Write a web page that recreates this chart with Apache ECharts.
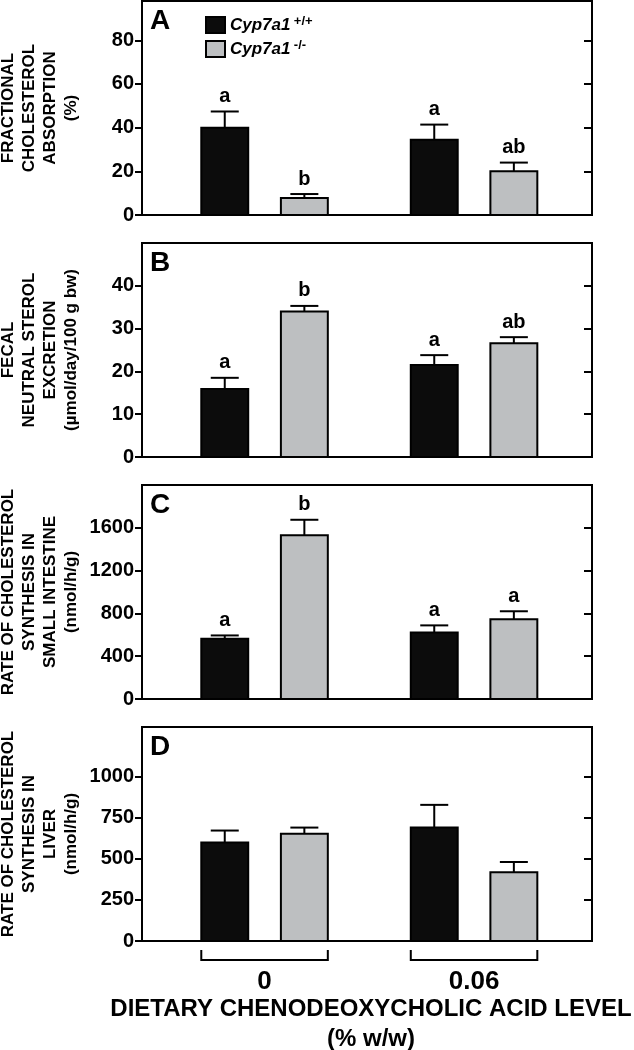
<!DOCTYPE html>
<html>
<head>
<meta charset="utf-8">
<script src="https://cdn.jsdelivr.net/npm/echarts@6/dist/echarts.min.js"></script>
<style>html,body{margin:0;padding:0;background:#fff}#c{width:634px;height:1050px}</style>
</head>
<body>
<div id="c"></div>
<script>
// ---- data ----
const groups = ['0', '0.06'];
const seriesNames = ['Cyp7a1 +/+', 'Cyp7a1 -/-'];

const panelLetters = ['A', 'B', 'C', 'D'];
const yTitles = [
  'FRACTIONAL\nCHOLESTEROL\nABSORPTION\n(%)',
  'FECAL\nNEUTRAL STEROL\nEXCRETION\n(µmol/day/100 g bw)',
  'RATE OF CHOLESTEROL\nSYNTHESIS IN\nSMALL INTESTINE\n(nmol/h/g)',
  'RATE OF CHOLESTEROL\nSYNTHESIS IN\nLIVER\n(nmol/h/g)'
];
const ticksA = [0, 20, 40, 60, 80];
const ticksB = [0, 10, 20, 30, 40];
const ticksC = [0, 400, 800, 1200, 1600];
const ticksD = [0, 250, 500, 750, 1000];
const yMax = [98, 50, 2000, 1300];

// Panel A: fractional cholesterol absorption (%)
const wtA = [40, 34.5], wtAErr = [7.4, 6.9], wtALet = ['a', 'a'];
const koA = [7.8, 20], koAErr = [1.8, 4], koALet = ['b', 'ab'];
// Panel B: fecal neutral sterol excretion
const wtB = [15.9, 21.5], wtBErr = [2.6, 2.3], wtBLet = ['a', 'a'];
const koB = [34.0, 26.6], koBErr = [1.3, 1.4], koBLet = ['b', 'ab'];
// Panel C: synthesis in small intestine
const wtC = [563, 622], wtCErr = [31, 66], wtCLet = ['a', 'a'];
const koC = [1530, 745], koCErr = [145, 75], koCLet = ['b', 'a'];
// Panel D: synthesis in liver
const wtD = [598, 689], wtDErr = [73, 138], wtDLet = ['', ''];
const koD = [651, 417], koDErr = [38, 63], koDLet = ['', ''];

const panels = [
  {wt: wtA, wtErr: wtAErr, wtLet: wtALet, ko: koA, koErr: koAErr, koLet: koALet, ticks: ticksA},
  {wt: wtB, wtErr: wtBErr, wtLet: wtBLet, ko: koB, koErr: koBErr, koLet: koBLet, ticks: ticksB},
  {wt: wtC, wtErr: wtCErr, wtLet: wtCLet, ko: koC, koErr: koCErr, koLet: koCLet, ticks: ticksC},
  {wt: wtD, wtErr: wtDErr, wtLet: wtDLet, ko: koD, koErr: koDErr, koLet: koDLet, ticks: ticksD}
];

// ---- layout / style ----
const FONT = '"Liberation Sans", Arial, Helvetica, sans-serif';
const gridTops = [1, 243, 485, 727];
const GRID_H = 214;
const BAR_OFF = 0.19, BAR_W = 0.224, CAP = 14;
const colors = ['#0c0c0c', '#bdbfc1'];

const chart = echarts.init(document.getElementById('c'), null, {renderer: 'canvas'});

const grid = [], xAxis = [], yAxis = [], series = [], title = [];
panels.forEach((p, i) => {
  grid.push({left: 142, width: 450, top: gridTops[i], height: GRID_H, show: true,
    outerBoundsMode: 'none', containLabel: false,
    borderColor: '#000', borderWidth: 2, backgroundColor: 'transparent'});
  const isLast = i === 3;
  xAxis.push({
    type: 'value', gridIndex: i, min: -0.585, max: 1.563,
    axisLine: {show: false, onZero: false}, axisTick: {show: false}, splitLine: {show: false},
    axisLabel: isLast ? {show: true, customValues: [0, 1], formatter: v => groups[Math.round(v)],
      fontSize: 26, fontWeight: 'bold', color: '#000', fontFamily: FONT, margin: 28} : {show: false},
    name: isLast ? 'DIETARY CHENODEOXYCHOLIC ACID LEVEL\n(% w/w)' : '',
    nameLocation: 'middle', nameGap: 53, nameMoveOverlap: false,
    nameTextStyle: {fontSize: 24, fontWeight: 'bold', color: '#000', fontFamily: FONT, lineHeight: 30,
      padding: [0, 0, 0, 8]}
  });
  yAxis.push({
    type: 'value', gridIndex: i, min: 0, max: yMax[i], position: 'left',
    axisLine: {show: false, onZero: false}, splitLine: {show: false},
    axisTick: {show: true, inside: false, length: 7, customValues: p.ticks, lineStyle: {color: '#000', width: 2}},
    axisLabel: {customValues: p.ticks, formatter: v => String(v), fontSize: 20, fontWeight: 'bold',
      color: '#000', fontFamily: FONT, margin: 8},
    name: yTitles[i], nameLocation: 'middle', nameRotate: 90, nameGap: 60, nameMoveOverlap: false,
    nameTextStyle: {fontSize: 17, fontWeight: 'bold', color: '#000', fontFamily: FONT, lineHeight: 21, align: 'center'}
  });
  yAxis.push({
    type: 'value', gridIndex: i, min: 0, max: yMax[i], position: 'right',
    axisLine: {show: false, onZero: false}, splitLine: {show: false},
    axisTick: {show: true, inside: true, length: 8, customValues: p.ticks, lineStyle: {color: '#000', width: 2}},
    axisLabel: {show: false}
  });
  title.push({text: panelLetters[i], left: 150, top: gridTops[i] + 6, padding: 0,
    textStyle: {fontSize: 28, fontWeight: 'bold', color: '#000', fontFamily: FONT}});

  [[p.wt, p.wtErr, p.wtLet, -BAR_OFF], [p.ko, p.koErr, p.koLet, BAR_OFF]].forEach((s, k) => {
    const [vals, errs, lets, off] = s;
    series.push({
      type: 'custom', name: seriesNames[k], xAxisIndex: i, yAxisIndex: i * 2, clip: false,
      itemStyle: {color: colors[k], borderColor: '#000', borderWidth: 2},
      data: vals.map((v, j) => [j, v, errs[j]]),
      renderItem: (params, api) => {
        const g = api.value(0), v = api.value(1), e = api.value(2);
        const p0 = api.coord([g + off - BAR_W / 2, 0]);
        const p1 = api.coord([g + off + BAR_W / 2, v]);
        const c = api.coord([g + off, v + e]);
        const children = [
          {type: 'line', shape: {x1: c[0], y1: p1[1], x2: c[0], y2: c[1]}, style: {stroke: '#000', lineWidth: 2}},
          {type: 'line', shape: {x1: c[0] - CAP, y1: c[1], x2: c[0] + CAP, y2: c[1]}, style: {stroke: '#000', lineWidth: 2}},
          {type: 'rect', shape: {x: p0[0], y: p1[1], width: p1[0] - p0[0], height: p0[1] - p1[1]},
            style: {fill: colors[k], stroke: '#000', lineWidth: 2}}
        ];
        const lt = lets[params.dataIndex];
        if (lt) children.push({type: 'text', x: c[0], y: c[1] - 5,
          style: {text: lt, align: 'center', verticalAlign: 'bottom', fontSize: 20, fontWeight: 'bold', fill: '#000', fontFamily: FONT}});
        return {type: 'group', children};
      }
    });
  });
});

// bracket under panel D groups
series.push({
  type: 'custom', name: 'bracket', xAxisIndex: 3, yAxisIndex: 6, clip: false, silent: true,
  data: groups.map((g, j) => [j]),
  renderItem: (params, api) => {
    const g = api.value(0);
    const a = api.coord([g - BAR_OFF - BAR_W / 2, 0]);
    const b = api.coord([g + BAR_OFF + BAR_W / 2, 0]);
    const y0 = a[1] + 19;
    return {type: 'polyline', shape: {points: [[a[0], y0 - 10], [a[0], y0], [b[0], y0], [b[0], y0 - 10]]},
      style: {stroke: '#000', lineWidth: 2, fill: null}};
  }
});

chart.setOption({
  animation: false,
  backgroundColor: '#fff',
  title, grid, xAxis, yAxis, series,
  legend: {
    data: seriesNames, orient: 'vertical', left: 205, top: 15, padding: 0,
    itemWidth: 19, itemHeight: 16, itemGap: 5,
    icon: 'rect', itemStyle: {borderColor: '#000', borderWidth: 2},
    formatter: name => '{i|Cyp7a1} {s|' + name.split(' ')[1] + '}',
    textStyle: {color: '#000', fontFamily: FONT, rich: {
      i: {fontSize: 17, fontWeight: 'bold', fontStyle: 'italic', color: '#000', fontFamily: FONT, lineHeight: 20},
      s: {fontSize: 13, fontWeight: 'bold', color: '#000', fontFamily: FONT, verticalAlign: 'top', lineHeight: 13}
    }}
  }
});
</script>
</body>
</html>
